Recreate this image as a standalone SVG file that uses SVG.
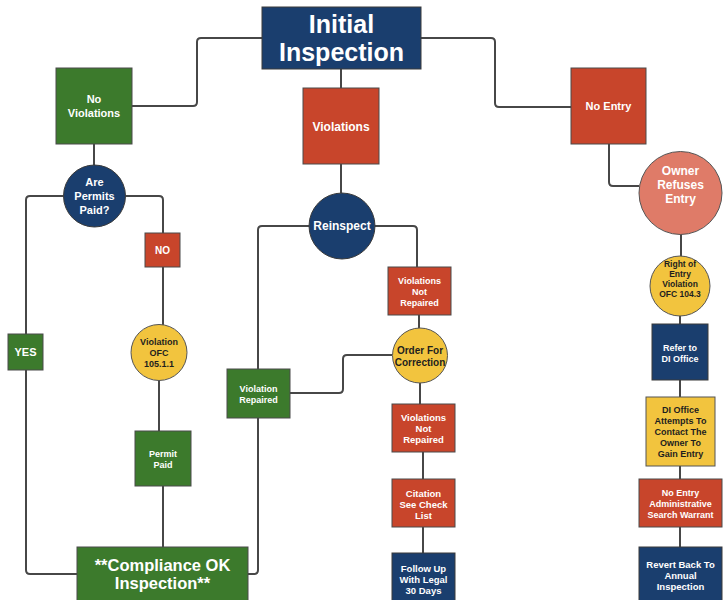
<svg xmlns="http://www.w3.org/2000/svg" width="727" height="600" viewBox="0 0 727 600">
<style>
.navy{fill:#1a3e6e;stroke:#3a3a3a;stroke-width:1}
.red{fill:#c8452b;stroke:#4a4a4a;stroke-width:1}
.green{fill:#3c7a2c;stroke:#4a4a4a;stroke-width:1}
.yellow{fill:#f2c43e;stroke:#555;stroke-width:1}
.salmon{fill:#df7b68;stroke:#555;stroke-width:1}
text{font-family:"Liberation Sans",Arial,sans-serif;font-weight:bold;text-anchor:middle;dominant-baseline:central;fill:#ffffff}
.dark{fill:#1e1e1e}
.conn path{fill:none;stroke:#474747;stroke-width:2}
</style>
<rect width="727" height="600" fill="#ffffff"/>
<g class="conn" id="connectors">
<path d="M262,38 H201 Q197,38 197,42 V102 Q197,106 193,106 H132"/>
<path d="M341,69 V88"/>
<path d="M421,38 H491 Q495,38 495,42 V103 Q495,107 499,107 H571"/>
<path d="M341,164 V193"/>
<path d="M94,144 V165"/>
<path d="M63,196 H30 Q26,196 26,200 V570 Q26,574 30,574 H77"/>
<path d="M126,196 H159 Q163,196 163,200 V326"/>
<path d="M159,380 V431"/>
<path d="M163,486 V547"/>
<path d="M309,226 H262 Q258,226 258,230 V369"/>
<path d="M258,418 V570 Q258,574 254,574 H248"/>
<path d="M375,226 H413 Q417,226 417,230 V267"/>
<path d="M419,315 V328"/>
<path d="M392,355 H347 Q343,355 343,359 V389 Q343,393 339,393 H290"/>
<path d="M420,383 V404"/>
<path d="M423,452 V479"/>
<path d="M423,527 V553"/>
<path d="M609,144 V182 Q609,186 613,186 H639"/>
<path d="M681,234 V258"/>
<path d="M680,314 V324"/>
<path d="M680,380 V397"/>
<path d="M680,466 V479"/>
<path d="M680,527 V547"/>
</g>
<g id="initial">
<rect class="navy" x="262" y="7" width="159" height="62"/>
<text x="341.5" y="24" font-size="25">Initial</text>
<text x="341.5" y="52" font-size="25">Inspection</text>
</g>
<g id="no-violations">
<rect class="green" x="56" y="68" width="76" height="76"/>
<text x="94" y="99" font-size="11">No</text>
<text x="94" y="113" font-size="11">Violations</text>
</g>
<g id="violations">
<rect class="red" x="303" y="88" width="76" height="76"/>
<text x="341" y="127" font-size="12">Violations</text>
</g>
<g id="no-entry">
<rect class="red" x="571" y="68" width="75" height="76"/>
<text x="608.5" y="106" font-size="11">No Entry</text>
</g>
<g id="permits-paid">
<circle class="navy" cx="94.5" cy="196" r="31"/>
<text x="94.5" y="182" font-size="11">Are</text>
<text x="94.5" y="196" font-size="11">Permits</text>
<text x="94.5" y="210" font-size="11">Paid?</text>
</g>
<g id="no">
<rect class="red" x="145" y="233" width="35" height="34"/>
<text x="162.5" y="250" font-size="10">NO</text>
</g>
<g id="yes">
<rect class="green" x="8" y="334" width="35" height="36"/>
<text x="25.5" y="352" font-size="11">YES</text>
</g>
<g id="violation-ofc-105">
<circle class="yellow" cx="159" cy="352.5" r="28"/>
<text class="dark" x="159" y="342" font-size="9">Violation</text>
<text class="dark" x="159" y="353" font-size="9">OFC</text>
<text class="dark" x="159" y="364" font-size="9">105.1.1</text>
</g>
<g id="permit-paid">
<rect class="green" x="135" y="431" width="56" height="55"/>
<text x="163" y="454" font-size="9">Permit</text>
<text x="163" y="465" font-size="9">Paid</text>
</g>
<g id="compliance">
<rect class="green" x="77" y="547" width="171" height="56"/>
<text x="162.5" y="565" font-size="16.5">**Compliance OK</text>
<text x="162.5" y="583" font-size="16.5">Inspection**</text>
</g>
<g id="reinspect">
<circle class="navy" cx="342" cy="226" r="33"/>
<text x="342" y="226" font-size="12">Reinspect</text>
</g>
<g id="violations-not-repaired-1">
<rect class="red" x="388" y="267" width="63" height="48"/>
<text x="419.5" y="281" font-size="9">Violations</text>
<text x="419.5" y="292" font-size="9">Not</text>
<text x="419.5" y="303" font-size="9">Repaired</text>
</g>
<g id="order-for-correction">
<circle class="yellow" cx="420" cy="355.5" r="27.5"/>
<text class="dark" x="420" y="350" font-size="10">Order For</text>
<text class="dark" x="420" y="362" font-size="10">Correction</text>
</g>
<g id="violation-repaired">
<rect class="green" x="227" y="369" width="63" height="49"/>
<text x="258.5" y="389" font-size="9">Violation</text>
<text x="258.5" y="400" font-size="9">Repaired</text>
</g>
<g id="violations-not-repaired-2">
<rect class="red" x="392" y="404" width="63" height="48"/>
<text x="423.5" y="417" font-size="9.5">Violations</text>
<text x="423.5" y="428" font-size="9.5">Not</text>
<text x="423.5" y="439" font-size="9.5">Repaired</text>
</g>
<g id="citation">
<rect class="red" x="392" y="479" width="63" height="48"/>
<text x="423.5" y="493" font-size="9.5">Citation</text>
<text x="423.5" y="504" font-size="9.5">See Check</text>
<text x="423.5" y="515" font-size="9.5">List</text>
</g>
<g id="follow-up">
<rect class="navy" x="392" y="553" width="63" height="50"/>
<text x="423.5" y="568" font-size="9.5">Follow Up</text>
<text x="423.5" y="579" font-size="9.5">With Legal</text>
<text x="423.5" y="590" font-size="9.5">30 Days</text>
</g>
<g id="owner-refuses">
<circle class="salmon" cx="680.5" cy="193" r="41.5"/>
<text x="680.5" y="171" font-size="12">Owner</text>
<text x="680.5" y="185" font-size="12">Refuses</text>
<text x="680.5" y="199" font-size="12">Entry</text>
</g>
<g id="right-of-entry">
<circle class="yellow" cx="680" cy="286" r="30"/>
<text class="dark" x="680" y="264" font-size="8.5">Right of</text>
<text class="dark" x="680" y="274" font-size="8.5">Entry</text>
<text class="dark" x="680" y="284" font-size="8.5">Violation</text>
<text class="dark" x="680" y="294" font-size="8.5">OFC 104.3</text>
</g>
<g id="refer-di">
<rect class="navy" x="652" y="324" width="56" height="56"/>
<text x="680" y="348" font-size="9">Refer to</text>
<text x="680" y="359" font-size="9">DI Office</text>
</g>
<g id="di-attempts">
<rect class="yellow" x="646" y="397" width="69" height="69"/>
<text class="dark" x="680.5" y="410" font-size="9">DI Office</text>
<text class="dark" x="680.5" y="421" font-size="9">Attempts To</text>
<text class="dark" x="680.5" y="432" font-size="9">Contact The</text>
<text class="dark" x="680.5" y="443" font-size="9">Owner To</text>
<text class="dark" x="680.5" y="454" font-size="9">Gain Entry</text>
</g>
<g id="search-warrant">
<rect class="red" x="639" y="479" width="83" height="48"/>
<text x="680.5" y="493" font-size="9">No Entry</text>
<text x="680.5" y="504" font-size="9">Administrative</text>
<text x="680.5" y="515" font-size="9">Search Warrant</text>
</g>
<g id="revert-back">
<rect class="navy" x="639" y="547" width="83" height="56"/>
<text x="680.5" y="564" font-size="9.5">Revert Back To</text>
<text x="680.5" y="575" font-size="9.5">Annual</text>
<text x="680.5" y="586" font-size="9.5">Inspection</text>
</g>
</svg>
